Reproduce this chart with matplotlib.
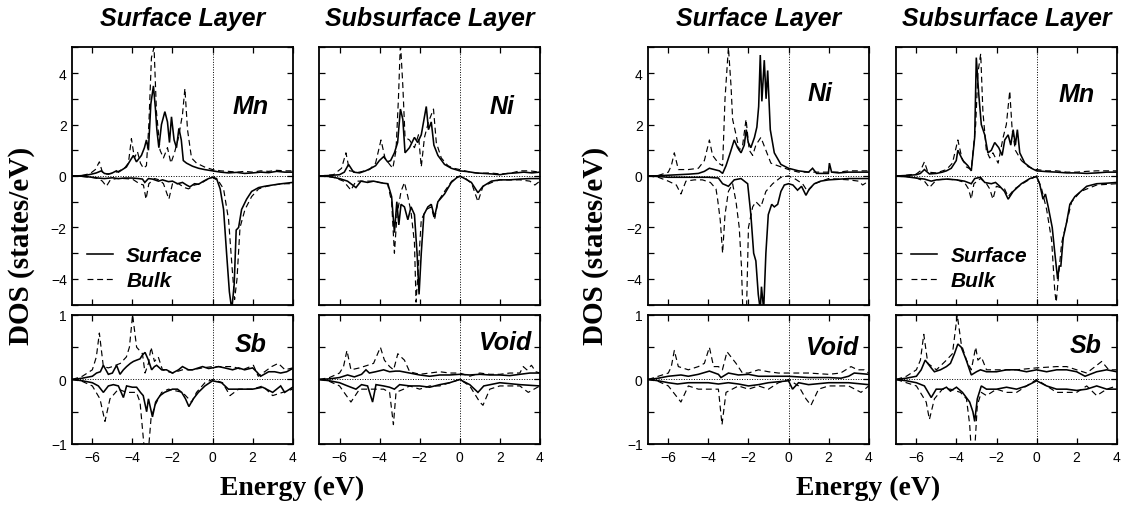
import matplotlib
matplotlib.use("Agg")
import matplotlib.pyplot as plt
from matplotlib.ticker import MultipleLocator, NullLocator

# ---------------------------------------------------------------------------
# Spin-resolved DOS (energy in eV, value in states/eV); up = positive, down = negative
# Left block: Mn/Sb-terminated surface; right block: Ni-terminated surface
# ---------------------------------------------------------------------------

# Surface layer (left block): Mn
mn_sl_surf_up = [(-7.0, 0.0), (-6.6, 0.01), (-6.3, 0.03), (-6.0, 0.08), (-5.8, 0.12), (-5.55, 0.2), (-5.4, 0.1),
                 (-5.2, 0.07), (-5.0, 0.12), (-4.8, 0.2), (-4.7, 0.15), (-4.5, 0.25), (-4.3, 0.35), (-4.15, 0.55),
                 (-3.95, 0.8), (-3.8, 0.55), (-3.65, 0.7), (-3.55, 0.8), (-3.4, 1.1), (-3.3, 1.4), (-3.2, 1.0),
                 (-3.08, 2.8), (-2.95, 3.5), (-2.85, 2.6), (-2.78, 1.8), (-2.68, 1.1), (-2.55, 2.0), (-2.38, 2.5),
                 (-2.25, 2.1), (-2.15, 1.3), (-2.05, 2.3), (-1.92, 1.4), (-1.8, 1.1), (-1.68, 1.85), (-1.56, 1.4),
                 (-1.46, 0.6), (-1.3, 0.5), (-1.0, 0.38), (-0.7, 0.3), (-0.4, 0.25), (0.0, 0.2), (0.4, 0.15),
                 (0.8, 0.12), (1.2, 0.14), (1.6, 0.1), (2.0, 0.12), (2.4, 0.15), (2.8, 0.13), (3.2, 0.18),
                 (3.6, 0.15), (4.0, 0.15)]
mn_sl_bulk_up = [(-7.0, 0.0), (-6.5, 0.02), (-6.1, 0.1), (-5.85, 0.25), (-5.65, 0.55), (-5.5, 0.15), (-5.3, 0.08),
                 (-5.0, 0.1), (-4.7, 0.18), (-4.4, 0.3), (-4.2, 0.5), (-4.05, 1.45), (-3.9, 0.7), (-3.75, 0.95),
                 (-3.6, 0.5), (-3.45, 0.3), (-3.3, 0.4), (-3.18, 2.0), (-3.05, 4.6), (-2.92, 5.0), (-2.8, 2.5),
                 (-2.62, 1.0), (-2.45, 0.7), (-2.25, 1.1), (-2.08, 0.5), (-1.9, 0.9), (-1.7, 1.5), (-1.5, 2.4),
                 (-1.38, 3.4), (-1.25, 1.8), (-1.05, 0.7), (-0.8, 0.5), (-0.4, 0.35), (0.0, 0.25), (0.4, 0.2),
                 (0.8, 0.18), (1.2, 0.15), (1.6, 0.18), (2.0, 0.15), (2.4, 0.2), (2.8, 0.18), (3.2, 0.22),
                 (3.6, 0.2), (4.0, 0.2)]
mn_sl_surf_dn = [(-7.0, 0.0), (-6.5, -0.01), (-6.0, -0.05), (-5.7, -0.08), (-5.4, -0.1), (-5.0, -0.07),
                 (-4.7, -0.1), (-4.4, -0.08), (-4.0, -0.08), (-3.7, -0.1), (-3.5, -0.12), (-3.38, -0.25),
                 (-3.2, -0.1), (-3.0, -0.12), (-2.7, -0.2), (-2.5, -0.15), (-2.2, -0.22), (-2.0, -0.2),
                 (-1.75, -0.3), (-1.5, -0.25), (-1.3, -0.35), (-1.13, -0.42), (-0.9, -0.3), (-0.7, -0.32),
                 (-0.45, -0.2), (-0.2, -0.1), (0.0, -0.05), (0.2, -0.1), (0.38, -0.5), (0.55, -1.3), (0.7, -3.0),
                 (0.84, -4.5), (0.96, -5.2), (1.08, -4.2), (1.18, -2.1), (1.3, -2.0), (1.45, -1.3), (1.7, -0.9),
                 (1.95, -0.6), (2.3, -0.45), (2.6, -0.4), (3.0, -0.35), (3.45, -0.3), (4.0, -0.25)]
mn_sl_bulk_dn = [(-7.0, 0.0), (-6.5, -0.02), (-6.0, -0.06), (-5.7, -0.1), (-5.5, -0.2), (-5.3, -0.4),
                 (-5.1, -0.15), (-4.8, -0.1), (-4.4, -0.1), (-4.0, -0.12), (-3.65, -0.3), (-3.45, -0.35),
                 (-3.32, -0.9), (-3.18, -0.3), (-2.9, -0.1), (-2.65, -0.15), (-2.45, -0.3), (-2.18, -0.9),
                 (-2.0, -0.3), (-1.7, -0.3), (-1.4, -0.45), (-1.2, -0.5), (-0.9, -0.35), (-0.6, -0.3),
                 (-0.3, -0.15), (0.0, -0.05), (0.3, -0.2), (0.55, -0.5), (0.8, -1.7), (0.97, -3.5), (1.1, -4.8),
                 (1.22, -4.0), (1.37, -2.0), (1.62, -1.3), (1.95, -0.8), (2.3, -0.5), (2.7, -0.4), (3.0, -0.35),
                 (3.5, -0.3), (4.0, -0.3)]

# Surface layer (left block): Sb
sb_sl_surf_up = [(-7.0, 0.0), (-6.5, 0.02), (-6.0, 0.05), (-5.79, 0.1), (-5.6, 0.12), (-5.45, 0.22), (-5.2, 0.08),
                 (-5.0, 0.1), (-4.79, 0.22), (-4.62, 0.08), (-4.45, 0.15), (-4.29, 0.2), (-4.1, 0.25),
                 (-3.95, 0.28), (-3.79, 0.3), (-3.62, 0.32), (-3.5, 0.38), (-3.37, 0.42), (-3.2, 0.3),
                 (-3.04, 0.15), (-2.9, 0.2), (-2.79, 0.22), (-2.54, 0.15), (-2.3, 0.15), (-2.0, 0.1),
                 (-1.7, 0.15), (-1.5, 0.2), (-1.2, 0.15), (-1.0, 0.15), (-0.7, 0.18), (-0.5, 0.2), (-0.2, 0.17),
                 (0.0, 0.18), (0.3, 0.2), (0.6, 0.18), (1.0, 0.15), (1.3, 0.18), (1.6, 0.15), (2.0, 0.18),
                 (2.2, 0.12), (2.4, 0.05), (2.8, 0.12), (3.1, 0.12), (3.4, 0.1), (3.7, 0.12), (4.0, 0.17)]
sb_sl_bulk_up = [(-7.0, 0.0), (-6.5, 0.05), (-6.0, 0.15), (-5.8, 0.35), (-5.65, 0.72), (-5.45, 0.2), (-5.2, 0.18),
                 (-5.0, 0.2), (-4.6, 0.25), (-4.3, 0.35), (-4.15, 0.5), (-3.99, 1.0), (-3.79, 0.5), (-3.5, 0.4),
                 (-3.37, 0.1), (-3.2, 0.25), (-3.07, 0.5), (-2.9, 0.28), (-2.71, 0.35), (-2.5, 0.15),
                 (-2.2, 0.12), (-2.0, 0.1), (-1.5, 0.15), (-1.0, 0.15), (-0.5, 0.18), (0.0, 0.2), (0.5, 0.2),
                 (1.0, 0.2), (1.5, 0.15), (2.04, 0.22), (2.28, 0.05), (2.6, 0.12), (2.95, 0.2), (3.28, 0.25),
                 (3.62, 0.15), (4.0, 0.18)]
sb_sl_surf_dn = [(-7.0, 0.0), (-6.5, -0.02), (-6.0, -0.05), (-5.7, -0.1), (-5.45, -0.2), (-5.2, -0.1),
                 (-4.95, -0.08), (-4.7, -0.1), (-4.45, -0.28), (-4.29, -0.1), (-4.0, -0.12), (-3.79, -0.12),
                 (-3.6, -0.2), (-3.46, -0.25), (-3.29, -0.5), (-3.2, -0.3), (-3.0, -0.58), (-2.84, -0.35),
                 (-2.62, -0.25), (-2.4, -0.2), (-2.0, -0.15), (-1.75, -0.15), (-1.54, -0.2), (-1.35, -0.3),
                 (-1.18, -0.42), (-0.96, -0.3), (-0.71, -0.2), (-0.38, -0.1), (0.0, -0.02), (0.45, -0.05),
                 (0.79, -0.15), (1.2, -0.15), (1.5, -0.15), (2.0, -0.15), (2.5, -0.12), (3.0, -0.2),
                 (3.4, -0.1), (3.6, -0.2), (4.0, -0.12)]
sb_sl_bulk_dn = [(-7.0, 0.0), (-6.5, -0.03), (-6.0, -0.1), (-5.62, -0.3), (-5.37, -0.65), (-5.12, -0.3),
                 (-4.7, -0.15), (-4.3, -0.2), (-3.8, -0.2), (-3.62, -0.35), (-3.4, -1.1), (-3.2, -1.1),
                 (-3.07, -0.6), (-2.87, -0.4), (-2.54, -0.2), (-2.2, -0.15), (-1.5, -0.2), (-1.04, -0.35),
                 (-0.8, -0.2), (-0.38, -0.05), (0.0, 0.0), (0.5, -0.05), (0.87, -0.25), (1.3, -0.15),
                 (2.0, -0.15), (2.5, -0.1), (3.0, -0.25), (3.5, -0.2), (4.0, -0.15)]

# Subsurface layer (left block): Ni
ni_ss_surf_up = [(-7.0, 0.0), (-6.5, 0.02), (-6.0, 0.05), (-5.76, 0.15), (-5.55, 0.45), (-5.3, 0.15), (-5.0, 0.12),
                 (-4.7, 0.2), (-4.43, 0.3), (-4.2, 0.4), (-4.01, 0.6), (-3.8, 0.75), (-3.6, 0.55), (-3.45, 0.6),
                 (-3.26, 0.9), (-3.1, 1.3), (-2.96, 2.6), (-2.84, 2.2), (-2.73, 0.9), (-2.51, 1.1), (-2.26, 1.5),
                 (-2.1, 1.3), (-1.92, 1.6), (-1.67, 2.7), (-1.56, 1.8), (-1.42, 2.1), (-1.29, 1.2), (-1.09, 0.8),
                 (-0.76, 0.45), (-0.42, 0.3), (0.0, 0.2), (0.4, 0.17), (0.8, 0.12), (1.2, 0.1), (1.6, 0.08),
                 (2.0, 0.05), (2.4, 0.1), (2.8, 0.12), (3.2, 0.15), (3.6, 0.12), (4.0, 0.15)]
ni_ss_bulk_up = [(-7.0, 0.0), (-6.3, 0.05), (-5.9, 0.3), (-5.68, 0.9), (-5.5, 0.2), (-5.0, 0.15), (-4.5, 0.25),
                 (-4.2, 0.5), (-3.93, 1.4), (-3.73, 0.7), (-3.5, 0.45), (-3.34, 0.3), (-3.18, 1.0), (-3.06, 3.0),
                 (-2.96, 5.2), (-2.84, 3.5), (-2.73, 1.5), (-2.51, 1.4), (-2.26, 1.1), (-2.06, 1.6), (-1.92, 0.35),
                 (-1.76, 1.5), (-1.56, 2.1), (-1.31, 2.6), (-1.17, 1.3), (-0.92, 0.7), (-0.59, 0.4), (-0.3, 0.3),
                 (0.0, 0.25), (0.5, 0.15), (1.0, 0.1), (1.5, 0.12), (2.0, 0.08), (2.5, 0.1), (3.0, 0.2),
                 (3.5, 0.2), (4.0, 0.15)]
ni_ss_surf_dn = [(-7.0, 0.0), (-6.5, -0.02), (-6.0, -0.1), (-5.6, -0.2), (-5.18, -0.45), (-4.93, -0.2),
                 (-4.6, -0.25), (-4.3, -0.2), (-4.01, -0.25), (-3.8, -0.28), (-3.59, -0.3), (-3.4, -0.8),
                 (-3.26, -2.2), (-3.14, -1.0), (-3.04, -1.9), (-2.93, -1.1), (-2.76, -1.2), (-2.59, -1.7),
                 (-2.43, -1.2), (-2.26, -1.5), (-2.13, -3.0), (-2.03, -4.6), (-1.92, -3.0), (-1.79, -1.5),
                 (-1.59, -1.2), (-1.42, -1.1), (-1.26, -1.6), (-1.09, -1.0), (-0.76, -0.7), (-0.42, -0.25),
                 (-0.1, -0.03), (0.05, -0.02), (0.25, -0.1), (0.58, -0.25), (0.91, -0.65), (1.16, -0.4),
                 (1.58, -0.2), (2.0, -0.15), (2.5, -0.15), (3.0, -0.12), (3.5, -0.1), (4.0, -0.1)]
ni_ss_bulk_dn = [(-7.0, 0.0), (-6.3, -0.05), (-5.8, -0.2), (-5.43, -0.55), (-5.18, -0.2), (-4.8, -0.2),
                 (-4.4, -0.2), (-4.0, -0.25), (-3.6, -0.3), (-3.4, -1.0), (-3.26, -3.0), (-3.13, -1.5),
                 (-2.93, -0.6), (-2.76, -0.25), (-2.59, -0.8), (-2.43, -1.4), (-2.26, -2.6), (-2.18, -4.9),
                 (-2.06, -3.5), (-1.92, -1.7), (-1.67, -1.3), (-1.42, -1.2), (-1.26, -1.7), (-1.09, -1.0),
                 (-0.76, -0.6), (-0.4, -0.2), (0.0, 0.0), (0.3, -0.1), (0.6, -0.3), (0.91, -1.0), (1.16, -0.4),
                 (1.6, -0.25), (2.0, -0.15), (3.0, -0.15), (3.5, -0.2), (3.75, -0.35), (4.0, -0.2)]

# Subsurface layer (left block): empty sphere
void_ss_surf_up = [(-7.0, 0.0), (-6.5, 0.01), (-6.0, 0.03), (-5.6, 0.07), (-5.26, 0.04), (-4.9, 0.08),
                   (-4.68, 0.15), (-4.51, 0.1), (-4.2, 0.12), (-3.8, 0.15), (-3.5, 0.12), (-3.2, 0.13),
                   (-3.0, 0.13), (-2.5, 0.1), (-2.0, 0.07), (-1.5, 0.05), (-1.0, 0.07), (-0.5, 0.07), (0.0, 0.08),
                   (0.5, 0.07), (1.0, 0.08), (1.5, 0.07), (2.0, 0.07), (2.5, 0.06), (3.0, 0.08), (3.5, 0.1),
                   (4.0, 0.1)]
void_ss_bulk_up = [(-7.0, 0.0), (-6.5, 0.03), (-6.0, 0.1), (-5.8, 0.2), (-5.63, 0.45), (-5.43, 0.15),
                   (-5.0, 0.18), (-4.6, 0.22), (-4.3, 0.25), (-3.96, 0.5), (-3.76, 0.3), (-3.5, 0.2), (-3.3, 0.15),
                   (-3.09, 0.4), (-2.93, 0.35), (-2.76, 0.3), (-2.5, 0.12), (-2.0, 0.08), (-1.5, 0.1),
                   (-1.0, 0.12), (-0.5, 0.1), (0.0, 0.1), (0.5, 0.05), (1.0, 0.1), (1.5, 0.08), (2.0, 0.08),
                   (2.5, 0.1), (3.0, 0.1), (3.17, 0.2), (3.35, 0.15), (3.58, 0.22), (3.8, 0.12), (4.0, 0.1)]
void_ss_surf_dn = [(-7.0, 0.0), (-6.5, -0.02), (-6.0, -0.05), (-5.6, -0.1), (-5.18, -0.15), (-4.9, -0.08),
                   (-4.6, -0.1), (-4.35, -0.35), (-4.18, -0.08), (-3.8, -0.1), (-3.5, -0.12), (-3.26, -0.15),
                   (-3.0, -0.08), (-2.5, -0.1), (-2.0, -0.1), (-1.5, -0.12), (-1.0, -0.08), (-0.5, -0.05),
                   (0.0, 0.0), (0.5, -0.08), (0.91, -0.2), (1.2, -0.1), (2.0, -0.05), (3.0, -0.08), (4.0, -0.1)]
void_ss_bulk_dn = [(-7.0, 0.0), (-6.5, -0.03), (-6.0, -0.1), (-5.43, -0.35), (-5.0, -0.15), (-4.6, -0.15),
                   (-4.2, -0.15), (-3.8, -0.15), (-3.5, -0.2), (-3.31, -0.7), (-3.18, -0.2), (-2.8, -0.15),
                   (-2.5, -0.1), (-2.0, -0.15), (-1.5, -0.1), (-1.0, -0.1), (-0.5, -0.05), (0.0, 0.0),
                   (0.5, -0.1), (1.0, -0.35), (1.16, -0.4), (1.5, -0.15), (2.0, -0.1), (3.0, -0.1), (3.42, -0.2),
                   (4.0, -0.1)]

# Surface layer (right block): Ni
ni_sl_surf_up = [(-7.0, 0.0), (-6.5, 0.01), (-6.0, 0.03), (-5.5, 0.05), (-5.0, 0.07), (-4.5, 0.1), (-4.2, 0.18),
                 (-3.95, 0.3), (-3.7, 0.25), (-3.45, 0.2), (-3.29, 0.1), (-3.12, 0.4), (-2.91, 0.9), (-2.71, 1.4),
                 (-2.54, 1.1), (-2.37, 0.9), (-2.21, 1.2), (-2.11, 1.8), (-2.01, 1.3), (-1.88, 1.1), (-1.7, 1.5),
                 (-1.58, 1.9), (-1.49, 2.7), (-1.41, 4.7), (-1.33, 2.9), (-1.21, 4.5), (-1.12, 3.0), (-1.04, 4.1),
                 (-0.91, 1.8), (-0.71, 0.9), (-0.38, 0.45), (0.0, 0.3), (0.5, 0.2), (1.0, 0.15), (1.2, 0.3),
                 (1.4, 0.1), (1.8, 0.1), (1.99, 0.1), (2.04, 0.5), (2.15, 0.15), (2.5, 0.12), (3.0, 0.15),
                 (3.5, 0.15), (4.0, 0.15)]
ni_sl_bulk_up = [(-7.0, 0.0), (-6.5, 0.02), (-6.0, 0.15), (-5.85, 0.4), (-5.7, 0.9), (-5.5, 0.25), (-5.0, 0.25),
                 (-4.5, 0.3), (-4.2, 0.6), (-3.95, 1.4), (-3.79, 0.8), (-3.5, 0.5), (-3.29, 0.4), (-3.17, 3.0),
                 (-3.0, 5.0), (-2.87, 3.5), (-2.79, 2.2), (-2.62, 1.6), (-2.46, 1.0), (-2.29, 1.2), (-2.12, 2.2),
                 (-1.96, 1.0), (-1.79, 0.8), (-1.63, 1.2), (-1.38, 1.5), (-1.13, 1.0), (-0.88, 0.5),
                 (-0.54, 0.4), (0.0, 0.25), (0.5, 0.15), (1.0, 0.15), (1.5, 0.15), (2.0, 0.15), (2.5, 0.15),
                 (3.0, 0.2), (3.5, 0.2), (4.0, 0.2)]
ni_sl_surf_dn = [(-7.0, 0.0), (-6.5, -0.02), (-6.0, -0.05), (-5.0, -0.05), (-4.0, -0.05), (-3.5, -0.08),
                 (-3.29, -0.3), (-3.0, -0.4), (-2.71, -0.15), (-2.37, -0.1), (-2.04, -0.3), (-1.88, -1.5),
                 (-1.74, -3.0), (-1.63, -3.3), (-1.51, -4.6), (-1.41, -5.2), (-1.35, -4.3), (-1.24, -5.2),
                 (-1.13, -3.0), (-1.01, -1.5), (-0.84, -1.1), (-0.71, -1.2), (-0.54, -1.1), (-0.38, -0.6),
                 (-0.21, -0.35), (0.0, -0.3), (0.22, -0.35), (0.45, -0.55), (0.65, -0.4), (0.87, -0.75),
                 (1.04, -0.5), (1.29, -0.3), (1.6, -0.2), (2.0, -0.15), (3.0, -0.1), (4.0, -0.1)]
ni_sl_bulk_dn = [(-7.0, 0.0), (-6.5, -0.05), (-6.0, -0.2), (-5.6, -0.35), (-5.37, -0.7), (-5.12, -0.2),
                 (-4.7, -0.15), (-4.3, -0.15), (-3.9, -0.25), (-3.62, -0.5), (-3.54, -0.9), (-3.41, -1.7),
                 (-3.29, -3.0), (-3.17, -1.5), (-3.0, -0.6), (-2.79, -0.3), (-2.62, -1.0), (-2.46, -2.0),
                 (-2.35, -3.5), (-2.25, -6.0), (-2.12, -6.0), (-2.0, -2.0), (-1.79, -1.2), (-1.63, -1.0),
                 (-1.38, -1.2), (-1.13, -0.6), (-0.79, -0.3), (-0.38, -0.05), (0.0, 0.0), (0.3, -0.1),
                 (0.7, -0.3), (0.95, -0.6), (1.3, -0.3), (2.0, -0.1), (3.0, -0.15), (3.5, -0.2), (3.7, -0.35),
                 (4.0, -0.2)]

# Surface layer (right block): empty sphere
void_sl_surf_up = [(-7.0, 0.0), (-6.5, 0.02), (-6.0, 0.05), (-5.37, 0.07), (-5.0, 0.05), (-4.5, 0.08),
                   (-3.95, 0.13), (-3.5, 0.08), (-3.37, 0.03), (-3.0, 0.1), (-2.5, 0.07), (-2.0, 0.08),
                   (-1.5, 0.05), (-1.0, 0.05), (0.0, 0.05), (1.0, 0.03), (2.0, 0.03), (2.62, 0.02), (3.0, 0.05),
                   (3.28, 0.1), (4.0, 0.08)]
void_sl_bulk_up = [(-7.0, 0.0), (-6.5, 0.05), (-6.0, 0.1), (-5.85, 0.2), (-5.7, 0.45), (-5.5, 0.2), (-5.0, 0.15),
                   (-4.5, 0.2), (-4.2, 0.25), (-3.95, 0.5), (-3.74, 0.2), (-3.5, 0.2), (-3.3, 0.15), (-3.07, 0.43),
                   (-2.87, 0.35), (-2.62, 0.25), (-2.3, 0.1), (-2.0, 0.1), (-1.5, 0.15), (-1.0, 0.12),
                   (-0.5, 0.1), (0.0, 0.1), (0.5, 0.1), (1.0, 0.1), (2.0, 0.08), (2.6, 0.1), (3.12, 0.2),
                   (3.45, 0.15), (3.78, 0.15), (4.0, 0.1)]
void_sl_surf_dn = [(-7.0, 0.0), (-6.5, -0.02), (-6.0, -0.05), (-5.54, -0.07), (-5.0, -0.05), (-4.5, -0.05),
                   (-4.0, -0.05), (-3.5, -0.07), (-3.0, -0.05), (-2.5, -0.07), (-2.0, -0.1), (-1.5, -0.08),
                   (-1.0, -0.05), (0.0, -0.02), (0.2, -0.15), (0.5, -0.05), (1.0, -0.08), (2.0, -0.05),
                   (3.0, -0.05), (4.0, -0.08)]
void_sl_bulk_dn = [(-7.0, 0.0), (-6.5, -0.03), (-6.0, -0.1), (-5.37, -0.35), (-5.0, -0.1), (-4.5, -0.15),
                   (-4.0, -0.15), (-3.5, -0.15), (-3.32, -0.7), (-3.12, -0.2), (-2.5, -0.1), (-2.0, -0.15),
                   (-1.5, -0.1), (-1.0, -0.15), (-0.5, -0.05), (0.0, 0.0), (0.5, -0.1), (0.87, -0.3),
                   (1.12, -0.4), (1.5, -0.15), (2.0, -0.1), (3.0, -0.1), (3.62, -0.2), (4.0, -0.1)]

# Subsurface layer (right block): Mn
mn_ss_surf_up = [(-7.0, 0.0), (-6.5, 0.02), (-6.0, 0.05), (-5.8, 0.1), (-5.6, 0.25), (-5.35, 0.08), (-5.0, 0.1),
                 (-4.7, 0.15), (-4.5, 0.2), (-4.26, 0.3), (-4.01, 0.6), (-3.93, 1.0), (-3.68, 0.6), (-3.43, 0.4),
                 (-3.26, 0.2), (-3.09, 1.5), (-3.01, 4.6), (-2.89, 3.2), (-2.76, 2.0), (-2.59, 1.6), (-2.43, 0.9),
                 (-2.26, 1.0), (-2.09, 1.3), (-1.89, 1.1), (-1.72, 0.8), (-1.59, 1.4), (-1.42, 1.6), (-1.29, 1.2),
                 (-1.17, 1.8), (-1.06, 1.2), (-0.96, 1.8), (-0.84, 0.9), (-0.59, 0.5), (-0.26, 0.3), (0.0, 0.2),
                 (0.5, 0.17), (1.0, 0.15), (1.5, 0.12), (2.0, 0.12), (2.5, 0.1), (3.0, 0.12), (3.5, 0.15),
                 (4.0, 0.15)]
mn_ss_bulk_up = [(-7.0, 0.0), (-6.5, 0.03), (-6.0, 0.08), (-5.8, 0.2), (-5.6, 0.55), (-5.43, 0.15), (-5.0, 0.12),
                 (-4.5, 0.25), (-4.2, 0.5), (-3.93, 1.4), (-3.73, 0.7), (-3.5, 0.35), (-3.26, 0.25), (-3.04, 2.0),
                 (-2.93, 4.0), (-2.79, 4.75), (-2.68, 2.5), (-2.51, 1.0), (-2.34, 0.7), (-2.18, 0.9),
                 (-1.92, 0.5), (-1.67, 1.5), (-1.51, 2.0), (-1.34, 3.3), (-1.22, 1.8), (-1.06, 1.0),
                 (-0.76, 0.6), (-0.4, 0.35), (0.0, 0.25), (0.5, 0.2), (1.0, 0.2), (1.5, 0.15), (2.0, 0.15),
                 (2.5, 0.18), (3.0, 0.2), (3.5, 0.2), (4.0, 0.2)]
mn_ss_surf_dn = [(-7.0, 0.0), (-6.5, -0.03), (-6.0, -0.08), (-5.6, -0.12), (-5.26, -0.2), (-5.0, -0.15),
                 (-4.5, -0.12), (-4.0, -0.15), (-3.6, -0.2), (-3.26, -0.3), (-3.09, -0.1), (-2.8, -0.05),
                 (-2.59, -0.25), (-2.26, -0.3), (-2.05, -0.25), (-1.84, -0.4), (-1.6, -0.6), (-1.42, -0.9),
                 (-1.17, -0.6), (-0.76, -0.3), (-0.34, -0.1), (0.0, -0.02), (0.15, -0.3), (0.32, -0.9),
                 (0.44, -0.7), (0.58, -1.2), (0.78, -2.0), (0.91, -3.0), (1.05, -4.0), (1.13, -3.5),
                 (1.21, -3.5), (1.33, -2.4), (1.5, -1.8), (1.66, -1.1), (1.91, -0.8), (2.5, -0.4), (3.0, -0.3),
                 (3.5, -0.28), (4.0, -0.25)]
mn_ss_bulk_dn = [(-7.0, 0.0), (-6.5, -0.02), (-6.0, -0.08), (-5.6, -0.2), (-5.35, -0.45), (-5.0, -0.15),
                 (-4.5, -0.12), (-4.0, -0.15), (-3.6, -0.25), (-3.4, -0.5), (-3.26, -0.9), (-3.13, -0.3),
                 (-2.8, -0.1), (-2.5, -0.3), (-2.34, -0.5), (-2.18, -0.9), (-2.01, -0.4), (-1.6, -0.5),
                 (-1.42, -0.8), (-1.1, -0.5), (-0.5, -0.2), (0.0, 0.0), (0.25, -0.5), (0.5, -1.3), (0.75, -2.5),
                 (0.91, -4.5), (0.98, -4.9), (1.08, -4.0), (1.25, -2.6), (1.5, -1.8), (1.75, -1.0), (2.2, -0.6),
                 (3.0, -0.35), (4.0, -0.3)]

# Subsurface layer (right block): Sb
sb_ss_surf_up = [(-7.0, 0.0), (-6.5, 0.02), (-6.0, 0.05), (-5.76, 0.15), (-5.56, 0.3), (-5.26, 0.18), (-5.1, 0.12),
                 (-4.8, 0.15), (-4.5, 0.2), (-4.3, 0.25), (-4.1, 0.4), (-3.93, 0.55), (-3.76, 0.5), (-3.51, 0.3),
                 (-3.26, 0.07), (-3.0, 0.12), (-2.8, 0.15), (-2.5, 0.12), (-2.0, 0.12), (-1.5, 0.15),
                 (-1.0, 0.15), (-0.5, 0.12), (0.0, 0.15), (0.5, 0.12), (1.0, 0.15), (1.5, 0.15), (2.0, 0.12),
                 (2.42, 0.05), (3.0, 0.12), (3.5, 0.15), (4.0, 0.12)]
sb_ss_bulk_up = [(-7.0, 0.0), (-6.5, 0.05), (-6.0, 0.15), (-5.8, 0.3), (-5.63, 0.7), (-5.43, 0.25), (-5.0, 0.15),
                 (-4.5, 0.3), (-4.2, 0.4), (-3.96, 1.0), (-3.76, 0.55), (-3.5, 0.3), (-3.26, 0.15), (-3.04, 0.5),
                 (-2.93, 0.3), (-2.76, 0.35), (-2.5, 0.15), (-2.0, 0.15), (-1.0, 0.15), (0.0, 0.18), (1.0, 0.2),
                 (1.5, 0.2), (2.0, 0.15), (2.5, 0.1), (2.92, 0.2), (3.25, 0.28), (3.6, 0.15), (4.0, 0.15)]
sb_ss_surf_dn = [(-7.0, 0.0), (-6.5, -0.02), (-6.0, -0.05), (-5.6, -0.1), (-5.26, -0.28), (-5.01, -0.15),
                 (-4.7, -0.15), (-4.5, -0.12), (-4.3, -0.18), (-4.0, -0.12), (-3.7, -0.2), (-3.34, -0.35),
                 (-3.18, -0.5), (-3.09, -0.65), (-2.96, -0.3), (-2.76, -0.1), (-2.5, -0.15), (-2.0, -0.15),
                 (-1.5, -0.12), (-1.0, -0.15), (-0.5, -0.1), (0.0, -0.02), (0.5, -0.1), (1.0, -0.15),
                 (1.5, -0.15), (2.0, -0.17), (2.5, -0.15), (3.0, -0.1), (3.5, -0.15), (4.0, -0.15)]
sb_ss_bulk_dn = [(-7.0, 0.0), (-6.5, -0.05), (-6.0, -0.1), (-5.51, -0.35), (-5.35, -0.62), (-5.1, -0.3),
                 (-4.7, -0.15), (-4.3, -0.15), (-3.8, -0.2), (-3.5, -0.3), (-3.34, -0.7), (-3.26, -1.1),
                 (-3.09, -1.1), (-2.96, -0.4), (-2.76, -0.2), (-2.5, -0.25), (-2.0, -0.15), (-1.5, -0.2),
                 (-1.0, -0.2), (-0.5, -0.1), (0.0, 0.0), (0.5, -0.1), (1.0, -0.2), (1.5, -0.2), (2.0, -0.2),
                 (2.5, -0.1), (3.0, -0.25), (3.5, -0.15), (4.0, -0.1)]

column_titles = ["Surface Layer", "Subsurface Layer", "Surface Layer", "Subsurface Layer"]
x_label = "Energy (eV)"
y_label = "DOS (states/eV)"
legend_labels = ["Surface", "Bulk"]

# ---------------------------------------------------------------------------
SANS = "Liberation Sans"
SERIF = "Liberation Serif"
INK = "black"

fig = plt.figure(figsize=(11.21, 5.10), dpi=100)

col_left = [0.0645, 0.2850, 0.5783, 0.7996]
col_w = 0.1966
top_rect = (0.4006, 0.5047)
bot_rect = (0.1275, 0.2529)

# (column, row, curves, element label, label x, label y baseline, legend?)
panels = [
    (0, "top", (mn_sl_surf_up, mn_sl_surf_dn, mn_sl_bulk_up, mn_sl_bulk_dn), "Mn", 2.8, 2.43, True),
    (0, "bot", (sb_sl_surf_up, sb_sl_surf_dn, sb_sl_bulk_up, sb_sl_bulk_dn), "Sb", 2.7, 0.445, False),
    (1, "top", (ni_ss_surf_up, ni_ss_surf_dn, ni_ss_bulk_up, ni_ss_bulk_dn), "Ni", 2.76, 2.43, False),
    (1, "bot", (void_ss_surf_up, void_ss_surf_dn, void_ss_bulk_up, void_ss_bulk_dn), "Void", 3.59, 0.47, False),
    (2, "top", (ni_sl_surf_up, ni_sl_surf_dn, ni_sl_bulk_up, ni_sl_bulk_dn), "Ni", 2.2, 2.96, False),
    (2, "bot", (void_sl_surf_up, void_sl_surf_dn, void_sl_bulk_up, void_sl_bulk_dn), "Void", 3.53, 0.39, False),
    (3, "top", (mn_ss_surf_up, mn_ss_surf_dn, mn_ss_bulk_up, mn_ss_bulk_dn), "Mn", 2.9, 2.92, True),
    (3, "bot", (sb_ss_surf_up, sb_ss_surf_dn, sb_ss_bulk_up, sb_ss_bulk_dn), "Sb", 3.23, 0.42, False),
]

solid_kw = dict(color=INK, lw=1.15, solid_joinstyle="miter")
dash_kw = dict(color=INK, lw=0.85, linestyle=(0, (5.0, 3.2)))


def unzip(pts):
    return [p[0] for p in pts], [p[1] for p in pts]


for col, row, curves, elem, lx, ly, with_legend in panels:
    if row == "top":
        ax = fig.add_axes([col_left[col], top_rect[0], col_w, top_rect[1]])
        ax.set_ylim(-5, 5)
        ax.yaxis.set_major_locator(MultipleLocator(2))
        ax.yaxis.set_minor_locator(MultipleLocator(1))
    else:
        ax = fig.add_axes([col_left[col], bot_rect[0], col_w, bot_rect[1]])
        ax.set_ylim(-1, 1)
        ax.yaxis.set_major_locator(MultipleLocator(1))
        ax.yaxis.set_minor_locator(MultipleLocator(0.5))
    ax.set_xlim(-7, 4)
    ax.xaxis.set_major_locator(MultipleLocator(2))
    ax.xaxis.set_minor_locator(NullLocator())

    # reference lines at E_F and zero DOS
    ax.axhline(0, color=INK, lw=0.7, linestyle=(0, (1, 1.6)), zorder=1)
    ax.axvline(0, color=INK, lw=0.7, linestyle=(0, (1, 1.6)), zorder=1)

    s_up, s_dn, b_up, b_dn = curves
    h_s, = ax.plot(*unzip(s_up), **solid_kw, zorder=3)
    ax.plot(*unzip(s_dn), **solid_kw, zorder=3)
    h_b, = ax.plot(*unzip(b_up), **dash_kw, zorder=2)
    ax.plot(*unzip(b_dn), **dash_kw, zorder=2)

    ax.text(lx, ly, elem, ha="right", va="baseline", fontsize=18, fontweight="bold",
            fontstyle="italic", family=SANS, color=INK, zorder=5)

    if with_legend:
        ax.legend([h_s, h_b], legend_labels, loc="center left", bbox_to_anchor=(0.065, 0.142),
                  frameon=False, borderpad=0, borderaxespad=0, handlelength=1.25,
                  handletextpad=0.65, labelspacing=0.3,
                  prop=dict(family=SANS, size=15, weight="bold", style="italic"))

    ax.tick_params(which="both", direction="in", top=True, right=True, length=4, width=0.9,
                   labelsize=10, pad=4, colors=INK)
    for lab in ax.get_xticklabels() + ax.get_yticklabels():
        lab.set_family(SANS)
    if col in (1, 3):
        ax.tick_params(labelleft=False)
    if row == "top":
        ax.tick_params(labelbottom=False)
    for sp in ax.spines.values():
        sp.set_linewidth(1.3)
        sp.set_color(INK)

# column headings
for col, title in enumerate(column_titles):
    fig.text(col_left[col] + col_w / 2, 0.962, title, ha="center", va="center", fontsize=18,
             fontweight="bold", fontstyle="italic", family=SANS, color=INK)

# shared axis labels, one pair per block
for xc, yc in ((0.2605, 0.019), (0.7745, 0.531)):
    fig.text(xc, 0.043, x_label, ha="center", va="center", fontsize=20, fontweight="bold",
             family=SERIF, color=INK)
    fig.text(yc, 0.518, y_label, ha="center", va="center", rotation=90, fontsize=21,
             fontweight="bold", family=SERIF, color=INK)

fig.savefig("out.png", dpi=100)
